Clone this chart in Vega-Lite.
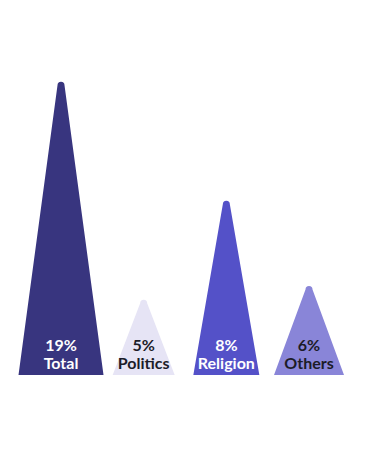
{
  "$schema": "https://vega.github.io/schema/vega-lite/v6.json",
  "width": 365,
  "height": 305,
  "autosize": {"type": "none"},
  "padding": {"top": 70, "left": 0, "right": 0, "bottom": 77},
  "background": "white",
  "config": {"view": {"stroke": null}},
  "data": {
    "values": [
      {"category": "Total", "label": "19%", "height": 19, "base": 0},
      {"category": "Politics", "label": "5%", "height": 4.7, "base": 0},
      {"category": "Religion", "label": "8%", "height": 11.2, "base": 0},
      {"category": "Others", "label": "6%", "height": 5.6, "base": 0}
    ]
  },
  "encoding": {
    "x": {
      "field": "category",
      "type": "nominal",
      "sort": ["Total", "Politics", "Religion", "Others"],
      "scale": {"type": "point", "range": [61, 309], "padding": 0},
      "axis": null
    }
  },
  "layer": [
    {
      "transform": [{"fold": ["base", "height"], "as": ["part", "level"]}],
      "mark": {"type": "trail", "clip": true, "opacity": 1},
      "encoding": {
        "y": {
          "field": "level",
          "type": "quantitative",
          "scale": {"domain": [0, 20], "nice": false, "zero": true},
          "axis": null
        },
        "size": {
          "condition": {"test": "datum.part === 'height'", "value": 7},
          "field": "category",
          "type": "nominal",
          "scale": {
            "type": "ordinal",
            "domain": ["Total", "Politics", "Religion", "Others"],
            "range": [85, 62, 66, 70]
          },
          "legend": null
        },
        "color": {
          "field": "category",
          "type": "nominal",
          "scale": {
            "domain": ["Total", "Politics", "Religion", "Others"],
            "range": ["#38357f", "#e6e4f5", "#5451c8", "#8985d8"]
          },
          "legend": null
        },
        "order": {"field": "part", "type": "nominal"}
      }
    },
    {
      "mark": {"type": "text", "font": "Lato", "fontWeight": "bold", "fontSize": 16, "baseline": "alphabetic", "dy": -24},
      "encoding": {
        "y": {"datum": 0, "type": "quantitative"},
        "text": {"field": "label"},
        "color": {
          "condition": {"test": "datum.category === 'Politics' || datum.category === 'Others'", "value": "#1c1c28"},
          "value": "#ffffff"
        }
      }
    },
    {
      "mark": {"type": "text", "font": "Lato", "fontWeight": "bold", "fontSize": 16, "baseline": "alphabetic", "dy": -6.5},
      "encoding": {
        "y": {"datum": 0, "type": "quantitative"},
        "text": {"field": "category"},
        "color": {
          "condition": {"test": "datum.category === 'Politics' || datum.category === 'Others'", "value": "#1c1c28"},
          "value": "#ffffff"
        }
      }
    }
  ]
}
